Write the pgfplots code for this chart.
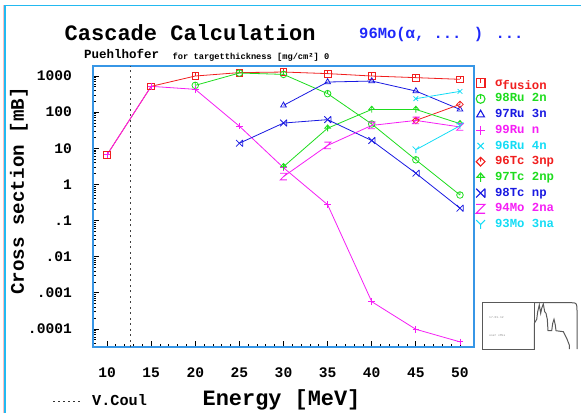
\documentclass[border=0pt]{standalone}
\usepackage{pgfplots}
\pgfplotsset{compat=1.18}
\usepackage{fontspec}
\setmainfont{Liberation Mono}
\definecolor{cred}{RGB}{240,30,30}
\definecolor{cgreen}{RGB}{30,220,30}
\definecolor{cblue}{RGB}{25,25,225}
\definecolor{cmag}{RGB}{245,30,245}
\definecolor{ccyan}{RGB}{20,220,245}
\definecolor{tblue}{RGB}{30,40,250}
\definecolor{framec}{RGB}{55,150,230}
\definecolor{borderc}{RGB}{35,185,240}

\pgfdeclareplotmark{sqT}{%
  \pgfpathrectangle{\pgfpoint{-\pgfplotmarksize}{-\pgfplotmarksize}}{\pgfpoint{2\pgfplotmarksize}{2\pgfplotmarksize}}%
  \pgfpathmoveto{\pgfpoint{0pt}{\pgfplotmarksize}}\pgfpathlineto{\pgfpoint{0pt}{0pt}}%
  \pgfusepathqstroke}
\pgfdeclareplotmark{circT}{%
  \pgfpathcircle{\pgfpointorigin}{\pgfplotmarksize}%
  \pgfpathmoveto{\pgfpoint{0pt}{\pgfplotmarksize}}\pgfpathlineto{\pgfpoint{0pt}{0pt}}%
  \pgfusepathqstroke}
\pgfdeclareplotmark{diaT}{%
  \pgfpathmoveto{\pgfpoint{0pt}{\pgfplotmarksize}}\pgfpathlineto{\pgfpoint{\pgfplotmarksize}{0pt}}%
  \pgfpathlineto{\pgfpoint{0pt}{-\pgfplotmarksize}}\pgfpathlineto{\pgfpoint{-\pgfplotmarksize}{0pt}}\pgfpathclose
  \pgfpathmoveto{\pgfpoint{0pt}{\pgfplotmarksize}}\pgfpathlineto{\pgfpoint{0pt}{0pt}}%
  \pgfusepathqstroke}
\pgfdeclareplotmark{arrUp}{%
  \pgfpathmoveto{\pgfpoint{0pt}{-\pgfplotmarksize}}\pgfpathlineto{\pgfpoint{0pt}{\pgfplotmarksize}}%
  \pgfpathmoveto{\pgfpoint{-0.85\pgfplotmarksize}{0pt}}\pgfpathlineto{\pgfpoint{0pt}{\pgfplotmarksize}}%
  \pgfpathlineto{\pgfpoint{0.85\pgfplotmarksize}{0pt}}\pgfpathclose
  \pgfusepathqstroke}
\pgfdeclareplotmark{xBar}{%
  \pgfpathmoveto{\pgfpoint{-\pgfplotmarksize}{-\pgfplotmarksize}}\pgfpathlineto{\pgfpoint{\pgfplotmarksize}{\pgfplotmarksize}}%
  \pgfpathmoveto{\pgfpoint{-\pgfplotmarksize}{\pgfplotmarksize}}\pgfpathlineto{\pgfpoint{\pgfplotmarksize}{-\pgfplotmarksize}}%
  \pgfpathmoveto{\pgfpoint{\pgfplotmarksize}{-\pgfplotmarksize}}\pgfpathlineto{\pgfpoint{\pgfplotmarksize}{\pgfplotmarksize}}%
  \pgfusepathqstroke}
\pgfdeclareplotmark{zMark}{%
  \pgfpathmoveto{\pgfpoint{-\pgfplotmarksize}{\pgfplotmarksize}}\pgfpathlineto{\pgfpoint{\pgfplotmarksize}{\pgfplotmarksize}}%
  \pgfpathlineto{\pgfpoint{-\pgfplotmarksize}{-\pgfplotmarksize}}\pgfpathlineto{\pgfpoint{\pgfplotmarksize}{-\pgfplotmarksize}}%
  \pgfusepathqstroke}
\pgfdeclareplotmark{yMark}{%
  \pgfpathmoveto{\pgfpoint{-\pgfplotmarksize}{\pgfplotmarksize}}\pgfpathlineto{\pgfpoint{0pt}{0pt}}%
  \pgfpathlineto{\pgfpoint{\pgfplotmarksize}{\pgfplotmarksize}}%
  \pgfpathmoveto{\pgfpoint{0pt}{0pt}}\pgfpathlineto{\pgfpoint{0pt}{-\pgfplotmarksize}}%
  \pgfusepathqstroke}

\pgfplotsset{
  ser/.style={line width=0.8pt, mark size=3.3pt, mark options={solid, line width=0.8pt}, forget plot},
  leg/.style={only marks, mark size=4.4pt, mark options={solid, line width=1.1pt}},
}

\begin{document}
\begin{tikzpicture}
\path[use as bounding box] (0pt,0pt) rectangle (581pt,-413pt);
% outer page border
\draw[red!25, line width=0.6pt] (3pt,-413pt) -- (3pt,-5pt);
\draw[borderc, line width=1.5pt] (5pt,-413pt) -- (5pt,-5.7pt) -- (581pt,-5.7pt);

\begin{axis}[
  at={(93pt,-347pt)}, anchor=south west,
  scale only axis, width=381pt, height=281pt,
  xmin=8.41, xmax=51.59,
  ymode=log, ymin=3.17e-5, ymax=1893,
  axis line style={draw=framec, line width=1.4pt},
  xtick={10,15,20,25,30,35,40,45,50}, minor x tick num=4,
  ytick={1e-4,1e-3,1e-2,1e-1,1,10,100,1000},
  yticklabels={.0001,.001,.01,.1,1,10,100,1000},
  minor ytick={4e-5,5e-5,6e-5,7e-5,8e-5,9e-5,
    2e-4,3e-4,4e-4,5e-4,6e-4,7e-4,8e-4,9e-4,
    2e-3,3e-3,4e-3,5e-3,6e-3,7e-3,8e-3,9e-3,
    2e-2,3e-2,4e-2,5e-2,6e-2,7e-2,8e-2,9e-2,
    0.2,0.3,0.4,0.5,0.6,0.7,0.8,0.9,
    2,3,4,5,6,7,8,9,
    20,30,40,50,60,70,80,90,
    200,300,400,500,600,700,800,900},
  xtick pos=bottom, ytick pos=left,
  tick align=inside,
  major tick length=6pt, minor tick length=3pt,
  tick style={black, line width=0.8pt},
  /pgf/number format/assume math mode=true,
  tick label style={font=\fontsize{14.6}{16}\selectfont\bfseries},
  xticklabel style={anchor=north, inner sep=0pt, yshift=-21pt},
  yticklabel style={anchor=east, inner sep=0pt, xshift=-21pt},
  legend cell align=left,
  legend image code/.code={\draw[#1] plot coordinates {(0pt,0pt)};},
  legend style={at={(rel axis cs:1,1)}, anchor=north west, xshift=2pt, yshift=-11pt,
    draw=none, fill=none, inner sep=0pt, row sep=3.7pt,
    nodes={inner sep=0pt, text height=9pt, text depth=3pt, font=\fontsize{12.3}{14}\selectfont\bfseries},
    cells={anchor=west}},
]
% Coulomb barrier
\addplot[black!75, dash pattern=on 2pt off 3.5pt, line width=0.9pt, forget plot]
  coordinates {(12.6,3.17e-5) (12.6,1893)};
% sigma fusion
\addplot[ser, cred, mark=sqT] coordinates {
  (10,6.6) (15,518) (20,1000) (25,1242) (30,1290) (35,1166) (40,1000) (45,902) (50,810)};
% 98Ru 2n
\addplot[ser, cgreen, mark=circT] coordinates {
  (20,552) (25,1210) (30,1110) (35,325) (40,47) (45,4.8) (50,0.51)};
% 97Ru 3n
\addplot[ser, cblue, mark=triangle] coordinates {
  (30,154) (35,682) (40,726) (45,384) (50,119)};
% 99Ru n
\addplot[ser, cmag, mark=+] coordinates {
  (10,6.6) (15,518) (20,428) (25,41) (30,2.9) (35,0.275) (40,5.7e-4) (45,9.8e-5) (50,4.4e-5)};
% 96Ru 4n
\addplot[ser, ccyan, mark=x] coordinates {(45,236) (50,376)};
% 96Tc 3np
\addplot[ser, cred, mark=diaT] coordinates {(45,59) (50,164)};
% 97Tc 2np
\addplot[ser, cgreen, mark=arrUp] coordinates {
  (30,3.1) (35,36) (40,119) (45,119) (50,48)};
% 98Tc np
\addplot[ser, cblue, mark=xBar] coordinates {
  (25,13.8) (30,50) (35,62) (40,16.4) (45,2.04) (50,0.22)};
% 94Mo 2na
\addplot[ser, cmag, mark=zMark] coordinates {
  (30,1.65) (35,12) (40,43) (45,59) (50,39)};
% 93Mo 3na
\addplot[ser, ccyan, mark=yMark] coordinates {(45,9.1) (50,42)};

\addlegendimage{leg, cred, mark=sqT}
\addlegendentry{\hspace*{10pt}\textcolor{cred}{σ\raisebox{-3.5pt}{fusion}}}
\addlegendimage{leg, cgreen, mark=circT}
\addlegendentry{\hspace*{10pt}\textcolor{cgreen}{98Ru 2n}}
\addlegendimage{leg, cblue, mark=triangle}
\addlegendentry{\hspace*{10pt}\textcolor{cblue}{97Ru 3n}}
\addlegendimage{leg, cmag, mark=+}
\addlegendentry{\hspace*{10pt}\textcolor{cmag}{99Ru n}}
\addlegendimage{leg, ccyan, mark=x}
\addlegendentry{\hspace*{10pt}\textcolor{ccyan}{96Ru 4n}}
\addlegendimage{leg, cred, mark=diaT}
\addlegendentry{\hspace*{10pt}\textcolor{cred}{96Tc 3np}}
\addlegendimage{leg, cgreen, mark=arrUp}
\addlegendentry{\hspace*{10pt}\textcolor{cgreen}{97Tc 2np}}
\addlegendimage{leg, cblue, mark=xBar}
\addlegendentry{\hspace*{10pt}\textcolor{cblue}{98Tc np}}
\addlegendimage{leg, cmag, mark=zMark}
\addlegendentry{\hspace*{10pt}\textcolor{cmag}{94Mo 2na}}
\addlegendimage{leg, ccyan, mark=yMark}
\addlegendentry{\hspace*{10pt}\textcolor{ccyan}{93Mo 3na}}
\end{axis}

% titles
\node[anchor=base west, inner sep=0pt] at (64.5pt,-40pt)
  {\fontsize{22}{24}\selectfont\bfseries Cascade Calculation};
\node[anchor=base west, inner sep=0pt, text=tblue] at (359pt,-38.5pt)
  {\fontsize{15.5}{18}\selectfont\bfseries 96Mo(α, ... ) ...};
\node[anchor=base west, inner sep=0pt] at (84pt,-58.5pt)
  {\fontsize{12.5}{14}\selectfont\bfseries Puehlhofer};
\node[anchor=base west, inner sep=0pt] at (172.5pt,-59pt)
  {\fontsize{8.7}{10}\selectfont\bfseries for targetthickness [mg/cm²] 0};
% axis labels
\node[rotate=90, inner sep=0pt] at (19pt,-191pt)
  {\fontsize{19.2}{21}\selectfont\bfseries Cross section [mB]};
\node[anchor=base west, inner sep=0pt] at (202.5pt,-405pt)
  {\fontsize{21.9}{24}\selectfont\bfseries Energy [MeV]};
\draw[black!80, dash pattern=on 2pt off 3pt, line width=0.8pt] (53pt,-401pt) -- (82pt,-401pt);
\node[anchor=base west, inner sep=0pt] at (92pt,-405pt)
  {\fontsize{15.2}{16}\selectfont\bfseries V.Coul};
% logo
\draw[black!65, line width=1pt] (482.7pt,-302.7pt) rectangle (534.3pt,-349pt);
\draw[black!65, line width=1pt] (534.3pt,-302.7pt) -- (571.7pt,-302.7pt)
  .. controls (577pt,-303pt) .. (577pt,-312pt) -- (577pt,-349pt);
\draw[black!65, line width=1pt] (534.3pt,-349pt) -- (534.3pt,-323.3pt) -- (536.7pt,-319.3pt)
  -- (537.7pt,-311.7pt) -- (539.3pt,-305pt) -- (540.7pt,-313.3pt) -- (541.7pt,-308.3pt)
  -- (543.3pt,-304pt) -- (544.7pt,-311.7pt) -- (546pt,-313.3pt) -- (547.3pt,-319.3pt)
  -- (548pt,-330.7pt) -- (551.7pt,-330.7pt) -- (552.7pt,-323.3pt) -- (554pt,-319.3pt)
  -- (555.3pt,-325pt) -- (556pt,-330.7pt) -- (563.3pt,-331.7pt) -- (566.7pt,-338.3pt)
  -- (569.3pt,-345pt) -- (569.3pt,-349pt);
\node[anchor=west, inner sep=0pt, text=black!45] at (489pt,-318pt) {\fontsize{3}{3}\selectfont 17.01.12};
\node[anchor=west, inner sep=0pt, text=black!45] at (489pt,-336pt) {\fontsize{3}{3}\selectfont user xMLs};
\end{tikzpicture}
\end{document}
